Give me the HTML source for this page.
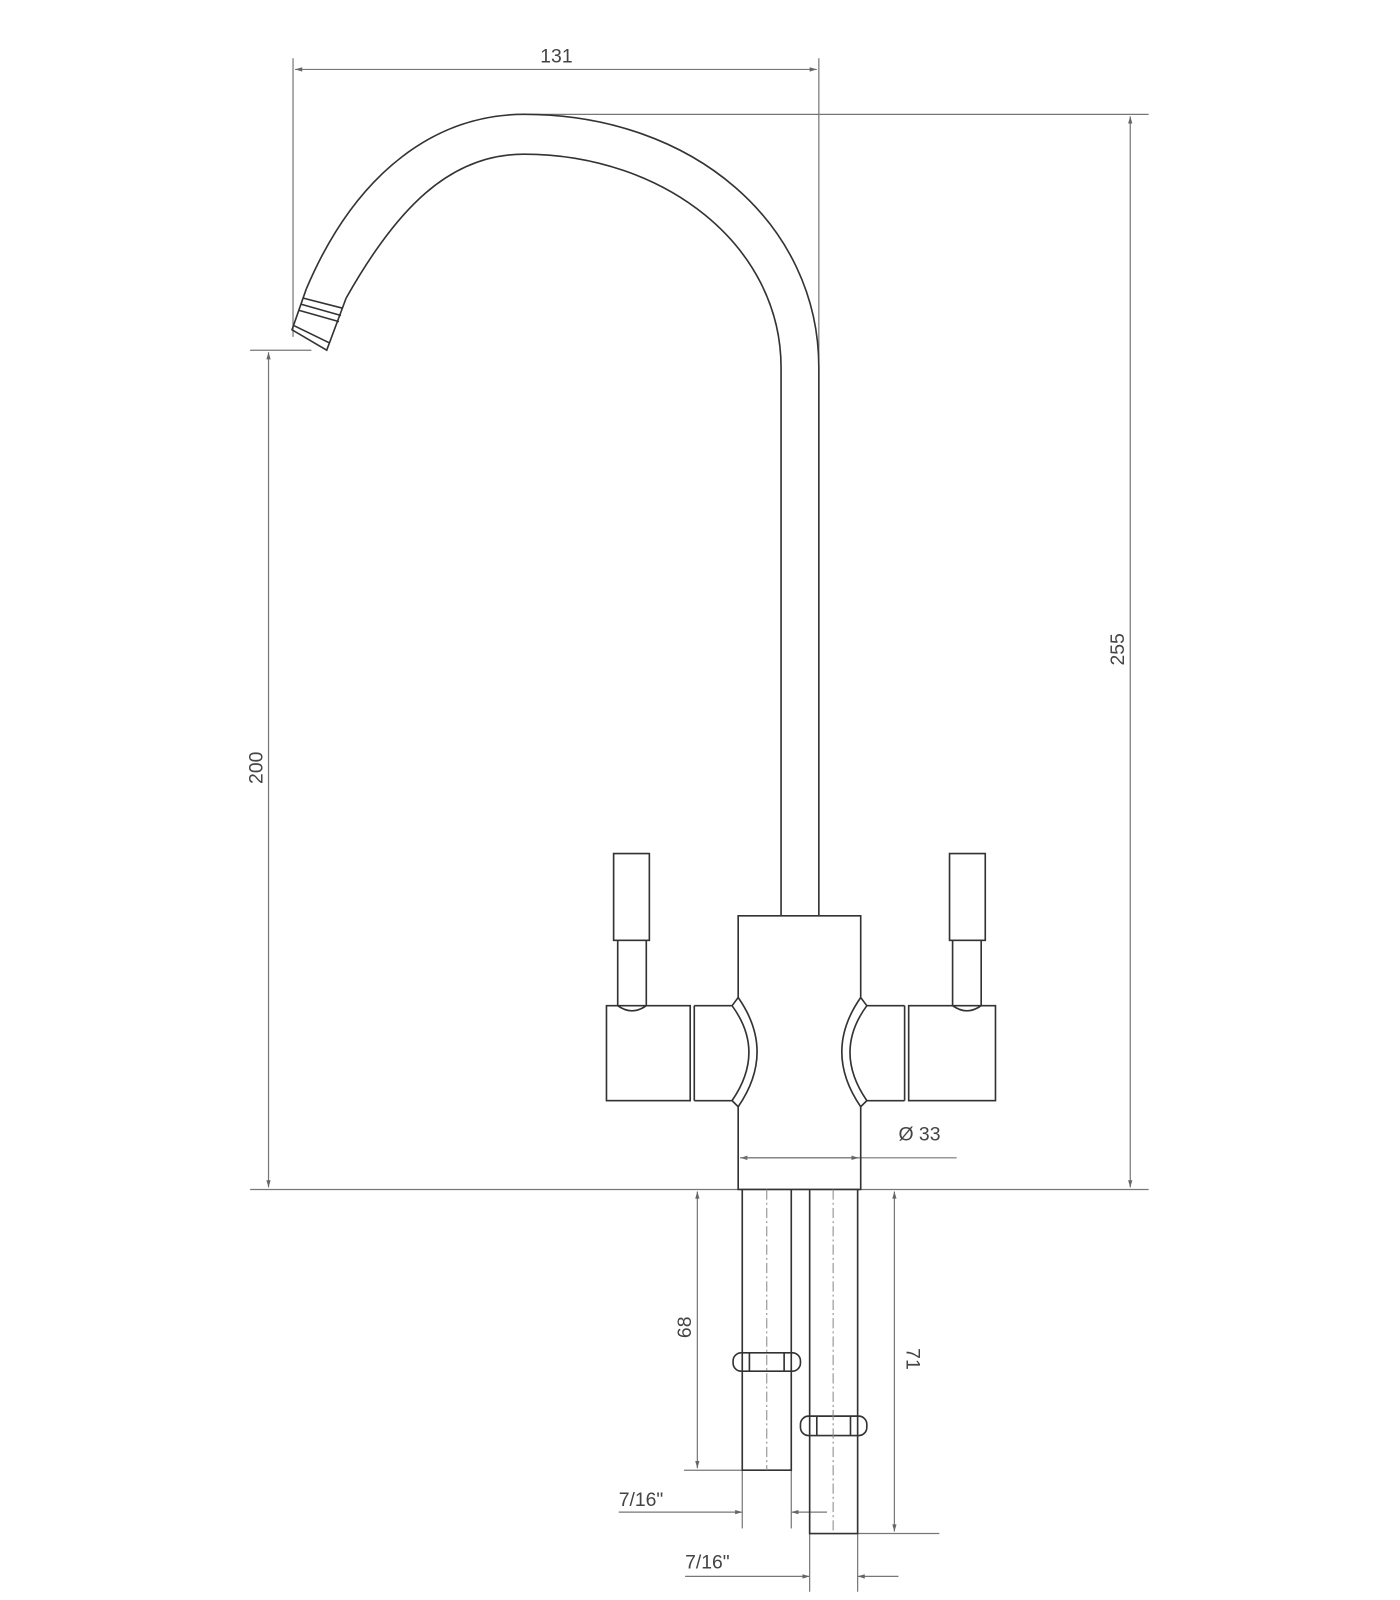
<!DOCTYPE html>
<html><head><style>
html,body{margin:0;padding:0;background:#fff;}
svg{display:block;}
text{font-family:"Liberation Sans",sans-serif;fill:#444;font-size:19px;}
</style></head><body>
<svg width="1400" height="1600" viewBox="0 0 1400 1600" xmlns="http://www.w3.org/2000/svg">
<defs>
<marker id="a" viewBox="0 0 10 10" refX="10" refY="5" markerWidth="9" markerHeight="7" orient="auto-start-reverse" markerUnits="userSpaceOnUse"><path d="M0,2 L10,5 L0,8 z" fill="#666"/></marker>
</defs>
<g transform="scale(1.021)">
<g stroke="#777" stroke-width="1.2" fill="none">
  <line x1="287" y1="57" x2="287" y2="330"/>
  <line x1="802" y1="57" x2="802" y2="360"/>
  <line x1="289" y1="68" x2="800" y2="68" marker-start="url(#a)" marker-end="url(#a)"/>
  <line x1="513" y1="112" x2="1125" y2="112"/>
  <line x1="1107" y1="114" x2="1107" y2="1163" marker-start="url(#a)" marker-end="url(#a)"/>
  <line x1="245" y1="1165" x2="1125" y2="1165"/>
  <line x1="245" y1="343" x2="305" y2="343"/>
  <line x1="263" y1="345" x2="263" y2="1163" marker-start="url(#a)" marker-end="url(#a)"/>
  <line x1="725" y1="1134" x2="937" y2="1134" marker-start="url(#a)"/>
  <line x1="841" y1="1134" x2="725" y2="1134" marker-start="url(#a)"/>
  <line x1="683" y1="1167" x2="683" y2="1438" marker-start="url(#a)" marker-end="url(#a)"/>
  <line x1="670" y1="1440" x2="727" y2="1440"/>
  <line x1="876" y1="1167" x2="876" y2="1500" marker-start="url(#a)" marker-end="url(#a)"/>
  <line x1="840" y1="1502" x2="920" y2="1502"/>
  <line x1="727" y1="1440" x2="727" y2="1497"/>
  <line x1="775" y1="1440" x2="775" y2="1497"/>
  <line x1="606" y1="1481" x2="727" y2="1481" marker-end="url(#a)"/>
  <line x1="810" y1="1481" x2="775" y2="1481" marker-end="url(#a)"/>
  <line x1="793" y1="1502" x2="793" y2="1559"/>
  <line x1="840" y1="1502" x2="840" y2="1559"/>
  <line x1="671" y1="1544" x2="793" y2="1544" marker-end="url(#a)"/>
  <line x1="880" y1="1544" x2="840" y2="1544" marker-end="url(#a)"/>
</g>
<g stroke="#333" stroke-width="1.6" fill="none">
  <path d="M300,283 C350,165 430,112 513,112 C680,112 802,220 802,360 L802,897"/>
  <path d="M339,292 C388,205 440,151 513,151 C650,151 765,240 765,360 L765,897"/>
  <path d="M300,283 L286,323 L320,343 L339,292"/>
  <line x1="297" y1="292" x2="336" y2="302"/>
  <line x1="295" y1="298" x2="334" y2="309"/>
  <line x1="293" y1="304" x2="332" y2="315"/>
  <line x1="288" y1="319" x2="323" y2="336"/>
  <path d="M723,977 L723,897 L843,897 L843,977"/>
  <path d="M723,1084 L723,1165 L843,1165 L843,1084"/>
  <rect x="601" y="836" width="35" height="85"/>
  <path d="M605,921 L605,985 Q619,995 633,985 L633,921"/>
  <rect x="594" y="985" width="82" height="93"/>
  <line x1="680" y1="985" x2="680" y2="1078"/>
  <path d="M680,985 L717,985"/>
  <path d="M680,1078 L717,1078"/>
  <path d="M717,985 L723,977 Q760,1030 723,1084 L717,1078 Q750,1030 717,985 Z"/>
  <rect x="930" y="836" width="35" height="85"/>
  <path d="M933,921 L933,985 Q947,995 961,985 L961,921"/>
  <rect x="890" y="985" width="85" height="93"/>
  <line x1="886" y1="985" x2="886" y2="1078"/>
  <path d="M849,985 L886,985"/>
  <path d="M849,1078 L886,1078"/>
  <path d="M849,985 L843,977 Q806,1030 843,1084 L849,1078 Q816,1030 849,985 Z"/>
  <path d="M727,1165 L727,1440 L775,1440 L775,1165"/>
  <path d="M793,1165 L793,1502 L840,1502 L840,1165"/>
  <rect x="718" y="1325" width="66" height="18" rx="8"/>
  <line x1="734" y1="1325" x2="734" y2="1343"/>
  <line x1="768" y1="1325" x2="768" y2="1343"/>
  <rect x="784" y="1387" width="65" height="19" rx="8"/>
  <line x1="800" y1="1387" x2="800" y2="1406"/>
  <line x1="833" y1="1387" x2="833" y2="1406"/>
</g>
<g stroke="#888" stroke-width="1" stroke-dasharray="10,3,2,3">
  <line x1="751" y1="1165" x2="751" y2="1440"/>
  <line x1="816" y1="1165" x2="816" y2="1502"/>
</g>
<text x="545" y="61" text-anchor="middle">131</text>
<text x="880" y="1117">Ø 33</text>
<text transform="translate(1101,636) rotate(-90)" text-anchor="middle">255</text>
<text transform="translate(257,752) rotate(-90)" text-anchor="middle">200</text>
<text transform="translate(677,1300) rotate(-90)" text-anchor="middle">68</text>
<text transform="translate(888,1331) rotate(90)" text-anchor="middle">71</text>
<text x="606" y="1475">7/16"</text>
<text x="671" y="1536">7/16"</text>
</g>
</svg>
</body></html>
